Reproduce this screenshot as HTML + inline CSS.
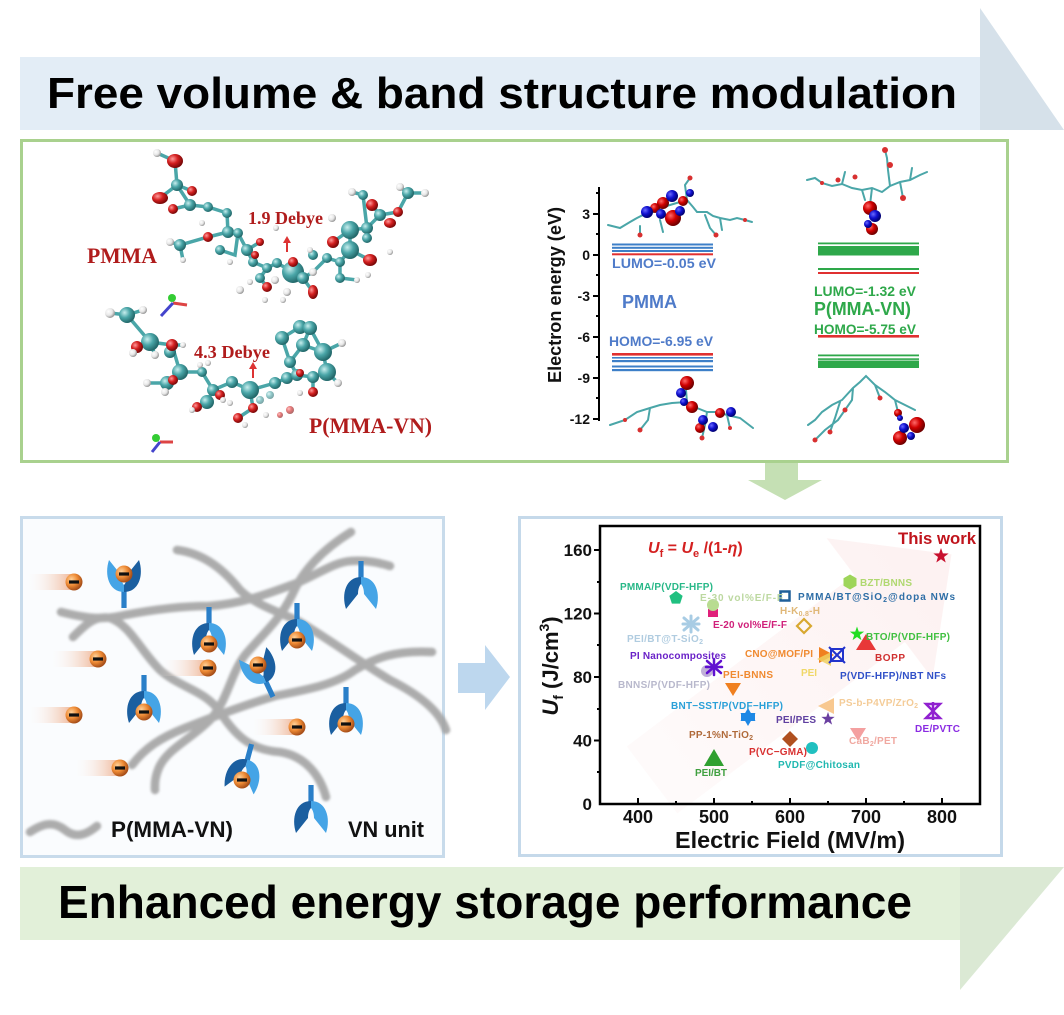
<!DOCTYPE html>
<html><head><meta charset="utf-8"><style>
html,body{margin:0;padding:0;background:#fff;}
svg{display:block;}
text{font-family:"Liberation Sans",Arial,sans-serif;}
.serif{font-family:"Liberation Serif","Times New Roman",serif;}
</style></head><body>
<svg width="1064" height="1015" viewBox="0 0 1064 1015" xmlns="http://www.w3.org/2000/svg">
<defs>
<radialGradient id="gT" cx="35%" cy="35%" r="65%"><stop offset="0" stop-color="#c8eeee"/><stop offset="0.5" stop-color="#4aa6a8"/><stop offset="1" stop-color="#23696b"/></radialGradient>
<radialGradient id="gR" cx="35%" cy="35%" r="65%"><stop offset="0" stop-color="#ff9a9a"/><stop offset="0.5" stop-color="#d42020"/><stop offset="1" stop-color="#7a0808"/></radialGradient>
<radialGradient id="gW" cx="35%" cy="35%" r="65%"><stop offset="0" stop-color="#ffffff"/><stop offset="0.6" stop-color="#e6e6e6"/><stop offset="1" stop-color="#9a9a9a"/></radialGradient>
<radialGradient id="gO" cx="35%" cy="35%" r="65%"><stop offset="0" stop-color="#ffd29a"/><stop offset="0.55" stop-color="#ee8a34"/><stop offset="1" stop-color="#a8501a"/></radialGradient>
<radialGradient id="gBl" cx="35%" cy="35%" r="65%"><stop offset="0" stop-color="#6a6aff"/><stop offset="0.5" stop-color="#1010d0"/><stop offset="1" stop-color="#000070"/></radialGradient>
<radialGradient id="gRl" cx="35%" cy="35%" r="65%"><stop offset="0" stop-color="#ff6a6a"/><stop offset="0.5" stop-color="#d00000"/><stop offset="1" stop-color="#700000"/></radialGradient>
<linearGradient id="tail" x1="0" y1="0" x2="1" y2="0"><stop offset="0" stop-color="#ffffff" stop-opacity="0"/><stop offset="1" stop-color="#eb9a6e" stop-opacity="0.75"/></linearGradient>
<linearGradient id="pinkArrow" x1="0" y1="0" x2="1" y2="0"><stop offset="0" stop-color="#f8dada" stop-opacity="0.12"/><stop offset="1" stop-color="#fbe1e1" stop-opacity="0.45"/></linearGradient>
<filter id="soft" x="-10%" y="-10%" width="120%" height="120%"><feGaussianBlur stdDeviation="1.2"/></filter>
<g id="cup">
  <rect x="-2.6" y="-33" width="5.2" height="19" fill="#2a7fc8"/>
  <path d="M0,-17 C-15,-17 -20,0 -15,15 L-3,0 C-3,-6 -1,-9 0,-10 Z" fill="#1b5fa0"/>
  <path d="M0,-17 C15,-17 20,0 15,15 L3,0 C3,-6 1,-9 0,-10 Z" fill="#45a4e6"/>
</g>
<g id="elec">
  <circle cx="0" cy="0" r="8.5" fill="url(#gO)"/>
  <rect x="-5" y="-1.6" width="10" height="3.2" fill="#111"/>
</g>
</defs>

<!-- TOP BANNER -->
<polygon points="980,8 1064,130 980,130" fill="#d6e1ea"/>
<rect x="20" y="57" width="960" height="73" fill="#e3edf6"/>
<text x="47" y="108" font-size="44" font-weight="bold" fill="#000" textLength="910" lengthAdjust="spacingAndGlyphs">Free volume &amp; band structure modulation</text>

<!-- GREEN BOX -->
<rect x="21.5" y="140.5" width="986" height="321" fill="#fff" stroke="#a9d18e" stroke-width="3"/>

<!-- PMMA molecule -->
<g stroke="#4aa6a8" stroke-width="3.5" fill="none" stroke-linecap="round">
<path d="M157,153 L175,161 L177,185 L190,205 L208,207 L227,213 L228,232 L238,233 L247,250 L253,262 L267,268 L277,263 L293,272 L303,278 L313,272 L327,258 L340,262 L350,250 L350,230 L367,228 L380,215 L398,212 L408,193"/>
<path d="M177,185 L160,198 M177,185 L192,191 M190,205 L173,209 M228,232 L208,237 L180,245 L170,242 M180,245 L183,260 M247,250 L260,242 M267,268 L260,278 L267,287 M293,272 L293,262 M303,278 L313,292 M340,262 L340,278 L357,280 M350,250 L370,260 M350,230 L333,242 M367,228 L363,195 L352,192 M380,215 L372,205 M408,193 L400,187 M408,193 L425,193 M238,233 L235,255 L220,250"/>
</g>
<g fill="url(#gT)">
<circle cx="177" cy="185" r="6"/><circle cx="190" cy="205" r="6"/><circle cx="208" cy="207" r="5"/><circle cx="227" cy="213" r="5"/><circle cx="228" cy="232" r="6"/><circle cx="238" cy="233" r="5"/><circle cx="180" cy="245" r="6"/><circle cx="220" cy="250" r="5"/><circle cx="247" cy="250" r="6"/><circle cx="253" cy="262" r="5"/><circle cx="267" cy="268" r="5"/><circle cx="277" cy="263" r="5"/><circle cx="260" cy="278" r="5"/><circle cx="293" cy="272" r="11"/><circle cx="303" cy="278" r="6"/><circle cx="313" cy="255" r="5"/><circle cx="327" cy="258" r="5"/><circle cx="340" cy="262" r="5"/><circle cx="350" cy="250" r="9"/><circle cx="340" cy="278" r="5"/><circle cx="350" cy="230" r="9"/><circle cx="367" cy="228" r="6"/><circle cx="380" cy="215" r="6"/><circle cx="408" cy="193" r="6"/><circle cx="363" cy="195" r="5"/><circle cx="367" cy="238" r="5"/>
</g>
<g fill="url(#gR)">
<ellipse cx="175" cy="161" rx="8" ry="7"/><ellipse cx="160" cy="198" rx="8" ry="6"/><circle cx="192" cy="191" r="5"/><circle cx="173" cy="209" r="5"/><circle cx="208" cy="237" r="5"/><circle cx="260" cy="242" r="4"/><circle cx="267" cy="287" r="5"/><circle cx="293" cy="262" r="5"/><ellipse cx="313" cy="292" rx="5" ry="7"/><ellipse cx="370" cy="260" rx="7" ry="6"/><circle cx="333" cy="242" r="6"/><circle cx="372" cy="205" r="6"/><ellipse cx="390" cy="223" rx="6" ry="5"/><circle cx="398" cy="212" r="5"/><circle cx="255" cy="255" r="4"/>
</g>
<g fill="url(#gW)">
<circle cx="157" cy="153" r="4"/><circle cx="202" cy="223" r="3"/><circle cx="170" cy="242" r="4"/><circle cx="183" cy="260" r="3"/><circle cx="287" cy="292" r="4"/><circle cx="313" cy="272" r="4"/><circle cx="357" cy="280" r="3"/><circle cx="352" cy="192" r="4"/><circle cx="400" cy="187" r="4"/><circle cx="425" cy="193" r="4"/><circle cx="332" cy="218" r="4"/><circle cx="240" cy="290" r="4"/><circle cx="265" cy="300" r="3"/><circle cx="283" cy="300" r="3"/><circle cx="230" cy="262" r="3"/><circle cx="276" cy="228" r="3"/><circle cx="310" cy="250" r="3"/><circle cx="368" cy="275" r="3"/><circle cx="390" cy="252" r="3"/><circle cx="275" cy="280" r="4"/><circle cx="250" cy="282" r="3"/>
</g>
<path d="M287,252 L287,241" stroke="#d33" stroke-width="2"/><path d="M283,243 L287,236 L291,243 Z" fill="#d33"/>

<!-- P(MMA-VN) molecule -->
<g stroke="#4aa6a8" stroke-width="3.5" fill="none" stroke-linecap="round">
<path d="M110,313 L127,315 L143,310 M127,315 L150,342 L137,347 M150,342 L172,345 L180,372 L167,383 L147,383 M180,372 L202,372 L213,390 L207,402 L197,407 M213,390 L232,382 L250,390 L253,408 L238,418 M250,390 L275,383 L287,378 L297,375 L290,362 L282,338 L300,327 L310,328 L303,345 L290,362 M303,345 L323,352 L327,372 L313,377 L297,375 M310,328 L323,352 M323,352 L342,343 M327,372 L338,383 M313,377 L313,392 M150,342 L155,355 M172,345 L183,345"/>
</g>
<g fill="url(#gT)">
<circle cx="127" cy="315" r="8"/><circle cx="150" cy="342" r="9"/><circle cx="170" cy="352" r="6"/><circle cx="180" cy="372" r="8"/><circle cx="167" cy="383" r="7"/><circle cx="202" cy="372" r="5"/><circle cx="213" cy="390" r="6"/><circle cx="207" cy="402" r="7"/><circle cx="232" cy="382" r="6"/><circle cx="250" cy="390" r="9"/><circle cx="275" cy="383" r="6"/><circle cx="287" cy="378" r="6"/><circle cx="297" cy="375" r="6"/><circle cx="290" cy="362" r="6"/><circle cx="282" cy="338" r="7"/><circle cx="300" cy="327" r="7"/><circle cx="310" cy="328" r="7"/><circle cx="303" cy="345" r="7"/><circle cx="323" cy="352" r="9"/><circle cx="327" cy="372" r="9"/><circle cx="313" cy="377" r="6"/><circle cx="260" cy="400" r="4" opacity="0.6"/><circle cx="270" cy="395" r="4" opacity="0.6"/>
</g>
<g fill="url(#gR)">
<circle cx="137" cy="347" r="6"/><circle cx="172" cy="345" r="6"/><circle cx="173" cy="380" r="5"/><circle cx="220" cy="395" r="5"/><circle cx="197" cy="407" r="5"/><circle cx="253" cy="408" r="5"/><circle cx="238" cy="418" r="5"/><circle cx="313" cy="392" r="5"/><circle cx="300" cy="373" r="4"/><circle cx="290" cy="410" r="4" opacity="0.6"/><circle cx="280" cy="415" r="3" opacity="0.6"/>
</g>
<g fill="url(#gW)">
<circle cx="110" cy="313" r="5"/><circle cx="143" cy="310" r="4"/><circle cx="133" cy="353" r="4"/><circle cx="155" cy="355" r="4"/><circle cx="183" cy="345" r="3"/><circle cx="147" cy="383" r="4"/><circle cx="165" cy="392" r="4"/><circle cx="200" cy="365" r="3"/><circle cx="208" cy="363" r="3"/><circle cx="223" cy="400" r="3"/><circle cx="192" cy="410" r="3"/><circle cx="342" cy="343" r="4"/><circle cx="338" cy="383" r="4"/><circle cx="230" cy="403" r="3"/><circle cx="245" cy="425" r="3"/><circle cx="266" cy="415" r="3"/><circle cx="300" cy="393" r="3"/>
</g>
<path d="M253,378 L253,367" stroke="#d33" stroke-width="2"/><path d="M249,369 L253,362 L257,369 Z" fill="#d33"/>

<!-- axis triads -->
<g>
<line x1="173" y1="303" x2="187" y2="305" stroke="#d44" stroke-width="3"/><line x1="173" y1="303" x2="161" y2="316" stroke="#44c" stroke-width="3"/><circle cx="172" cy="298" r="4" fill="#3c3"/>
<line x1="160" y1="442" x2="173" y2="442" stroke="#d44" stroke-width="3"/><line x1="160" y1="442" x2="152" y2="452" stroke="#44c" stroke-width="3"/><circle cx="156" cy="438" r="4" fill="#3c3"/>
</g>

<text class="serif" x="87" y="263" font-size="22" font-weight="bold" fill="#b01c1c" textLength="70" lengthAdjust="spacingAndGlyphs">PMMA</text>
<text class="serif" x="248" y="224" font-size="18" font-weight="bold" fill="#b01c1c" textLength="75" lengthAdjust="spacingAndGlyphs">1.9 Debye</text>
<text class="serif" x="194" y="358" font-size="18" font-weight="bold" fill="#b01c1c" textLength="76" lengthAdjust="spacingAndGlyphs">4.3 Debye</text>
<text class="serif" x="309" y="433" font-size="22" font-weight="bold" fill="#b01c1c" textLength="123" lengthAdjust="spacingAndGlyphs">P(MMA-VN)</text>

<!-- BAND DIAGRAM -->
<g stroke="#000" stroke-width="2">
<line x1="599" y1="187" x2="599" y2="421"/>
<line x1="593" y1="214" x2="599" y2="214"/><line x1="593" y1="255" x2="599" y2="255"/><line x1="593" y1="296" x2="599" y2="296"/><line x1="593" y1="337" x2="599" y2="337"/><line x1="593" y1="378" x2="599" y2="378"/><line x1="593" y1="419" x2="599" y2="419"/>
<line x1="596" y1="193" x2="599" y2="193"/><line x1="596" y1="234" x2="599" y2="234"/><line x1="596" y1="275" x2="599" y2="275"/><line x1="596" y1="316" x2="599" y2="316"/><line x1="596" y1="357" x2="599" y2="357"/><line x1="596" y1="398" x2="599" y2="398"/>
</g>
<g font-size="14" font-weight="bold" fill="#111" text-anchor="end">
<text x="590" y="219">3</text><text x="590" y="260">0</text><text x="590" y="301">-3</text><text x="590" y="342">-6</text><text x="590" y="383">-9</text><text x="590" y="424">-12</text>
</g>
<text transform="translate(561,295) rotate(-90)" text-anchor="middle" font-size="18" font-weight="bold" fill="#111" textLength="176" lengthAdjust="spacingAndGlyphs">Electron energy (eV)</text>

<!-- PMMA bands -->
<rect x="612" y="243.5" width="101" height="2" fill="#3d7fc8"/>
<rect x="612" y="246.8" width="101" height="2" fill="#3d7fc8"/>
<rect x="612" y="250" width="101" height="2" fill="#3d7fc8"/>
<rect x="612" y="253.3" width="101" height="2" fill="#e03030"/>
<rect x="612" y="353" width="101" height="2.6" fill="#e03030"/>
<rect x="612" y="357" width="101" height="1.6" fill="#3d7fc8"/>
<rect x="612" y="360" width="101" height="2.2" fill="#3d7fc8"/>
<rect x="612" y="365.5" width="101" height="2" fill="#3d7fc8"/>
<rect x="612" y="369" width="101" height="2.2" fill="#3d7fc8"/>
<text x="612" y="268" font-size="14" font-weight="bold" fill="#4f7bc9" textLength="104" lengthAdjust="spacingAndGlyphs">LUMO=-0.05 eV</text>
<text x="622" y="308" font-size="18" font-weight="bold" fill="#4f7bc9" textLength="55" lengthAdjust="spacingAndGlyphs">PMMA</text>
<text x="609" y="346" font-size="14" font-weight="bold" fill="#4f7bc9" textLength="104" lengthAdjust="spacingAndGlyphs">HOMO=-6.95 eV</text>

<!-- P(MMA-VN) bands -->
<rect x="818" y="242.5" width="101" height="1.8" fill="#2ea84a"/>
<rect x="818" y="246" width="101" height="9.5" fill="#2ea84a"/>
<rect x="818" y="268" width="101" height="2" fill="#2ea84a"/>
<rect x="818" y="272" width="101" height="2" fill="#e03030"/>
<rect x="818" y="335" width="101" height="2.6" fill="#e03030"/>
<rect x="818" y="354.5" width="101" height="1.8" fill="#2ea84a"/>
<rect x="818" y="358.3" width="101" height="1.6" fill="#2ea84a"/>
<rect x="818" y="360.5" width="101" height="7.5" fill="#2ea84a"/>
<text x="814" y="296" font-size="14" font-weight="bold" fill="#2ea84a" textLength="102" lengthAdjust="spacingAndGlyphs">LUMO=-1.32 eV</text>
<text x="814" y="315" font-size="18" font-weight="bold" fill="#2ea84a" textLength="97" lengthAdjust="spacingAndGlyphs">P(MMA-VN)</text>
<text x="814" y="334" font-size="14" font-weight="bold" fill="#2ea84a" textLength="102" lengthAdjust="spacingAndGlyphs">HOMO=-5.75 eV</text>

<!-- orbital molecules -->
<g stroke="#4aa6a8" stroke-width="2" fill="none" stroke-linecap="round">
<path d="M608,225 L620,228 L630,222 L637,218 L645,214 L653,212 L662,208 L670,205 L680,202 L687,200 L693,207 L697,212 L707,212 L713,216 L720,218 L730,220 L737,218 L745,220 L752,222 M687,200 L685,185 L690,178 M640,226 L640,235 M660,220 L663,232 M705,215 L710,228 L716,235 M720,218 L722,230"/>
<path d="M610,425 L625,420 L637,412 L650,408 L660,405 L672,403 L687,402 L697,408 L707,412 L718,412 L727,415 L740,418 L753,428 M687,402 L686,390 L687,378 M650,408 L648,420 L640,430 M707,412 L705,425 L702,438 M727,415 L730,428"/>
<path d="M807,180 L815,178 L822,183 L832,186 L842,184 L852,188 L862,190 L872,188 L882,192 L890,186 L900,182 L910,180 L920,175 L927,172 M890,186 L888,170 L887,158 L885,150 M900,182 L903,198 M842,184 L845,172 M862,190 L865,200 M910,180 L912,168 M872,188 L870,205"/>
<path d="M808,425 L815,420 L822,412 L832,405 L842,400 L853,388 L860,382 L866,376 L875,385 L885,392 L895,400 L905,405 L915,410 M853,388 L852,400 L845,410 L838,420 L825,430 L815,440 M875,385 L880,398 M895,400 L898,412 M840,402 L835,418 L830,432"/>
</g>
<g fill="#d83030">
<circle cx="640" cy="235" r="2.5"/><circle cx="716" cy="235" r="2.5"/><circle cx="690" cy="178" r="2.5"/><circle cx="745" cy="220" r="2"/>
<circle cx="640" cy="430" r="2.5"/><circle cx="702" cy="438" r="2.5"/><circle cx="730" cy="428" r="2"/><circle cx="625" cy="420" r="2"/>
<circle cx="838" cy="180" r="2.5"/><circle cx="855" cy="177" r="2.5"/><circle cx="890" cy="165" r="3"/><circle cx="885" cy="150" r="3"/><circle cx="903" cy="198" r="3"/><circle cx="822" cy="183" r="2"/>
<circle cx="830" cy="432" r="2.5"/><circle cx="815" cy="440" r="2.5"/><circle cx="880" cy="398" r="2.5"/><circle cx="845" cy="410" r="2.5"/>
</g>
<g>
<circle cx="663" cy="203" r="6" fill="url(#gRl)"/><circle cx="673" cy="218" r="8" fill="url(#gRl)"/><circle cx="655" cy="208" r="5" fill="url(#gRl)"/><circle cx="683" cy="201" r="5" fill="url(#gRl)"/>
<circle cx="647" cy="212" r="6" fill="url(#gBl)"/><circle cx="661" cy="214" r="5" fill="url(#gBl)"/><circle cx="672" cy="196" r="6" fill="url(#gBl)"/><circle cx="680" cy="211" r="5" fill="url(#gBl)"/><circle cx="690" cy="193" r="4" fill="url(#gBl)"/>
<circle cx="687" cy="383" r="7" fill="url(#gRl)"/><circle cx="692" cy="407" r="6" fill="url(#gRl)"/><circle cx="720" cy="413" r="5" fill="url(#gRl)"/><circle cx="700" cy="428" r="5" fill="url(#gRl)"/>
<circle cx="681" cy="393" r="5" fill="url(#gBl)"/><circle cx="684" cy="402" r="4" fill="url(#gBl)"/><circle cx="703" cy="420" r="5" fill="url(#gBl)"/><circle cx="731" cy="412" r="5" fill="url(#gBl)"/><circle cx="713" cy="427" r="5" fill="url(#gBl)"/>
<circle cx="870" cy="208" r="7" fill="url(#gRl)"/><circle cx="872" cy="229" r="6" fill="url(#gRl)"/>
<circle cx="875" cy="216" r="6" fill="url(#gBl)"/><circle cx="868" cy="224" r="4" fill="url(#gBl)"/>
<circle cx="917" cy="425" r="8" fill="url(#gRl)"/><circle cx="900" cy="438" r="7" fill="url(#gRl)"/><circle cx="898" cy="413" r="4" fill="url(#gRl)"/>
<circle cx="904" cy="428" r="5" fill="url(#gBl)"/><circle cx="911" cy="436" r="4" fill="url(#gBl)"/><circle cx="900" cy="418" r="3" fill="url(#gBl)"/>
</g>

<!-- down arrow -->
<polygon points="765,463 798,463 798,480 822,480 785,500 748,480 765,480" fill="#c5e0b4"/>

<!-- BOTTOM LEFT PANEL -->
<rect x="21.5" y="517.5" width="422" height="339" fill="#fafcfe" stroke="#c8dbeb" stroke-width="3"/>
<g fill="none" stroke="#a4a4a4" stroke-width="8.5" stroke-linecap="round" filter="url(#soft)" opacity="0.9">
<path d="M61,612 C85,618 100,620 120,616 C150,610 180,606 209,606 C240,604 265,595 297,583 C320,573 335,562 351,561 C368,560 380,563 390,566"/>
<path d="M177,550 C200,553 220,565 240,590 C255,605 280,612 300,622 C330,640 360,662 390,680 C420,695 440,712 446,730"/>
<path d="M73,637 C85,625 95,615 110,618 C130,625 140,650 160,670 C180,688 205,690 220,712 C235,735 250,750 280,752 C305,756 320,775 326,797"/>
<path d="M351,532 C330,545 305,565 292,595 C280,620 262,635 245,655 C230,675 228,700 210,720 C190,740 165,750 158,770 C154,780 155,788 155,790"/>
<path d="M132,765 C145,748 160,738 185,728 C215,716 245,705 275,696 C305,690 335,685 355,670 C375,658 395,650 432,652"/>
<path d="M30,832 C45,822 55,822 65,830 C75,838 85,836 97,826"/>
</g>
<!-- tails -->
<rect x="25" y="574" width="49" height="16" fill="url(#tail)"/>
<rect x="49" y="651" width="49" height="16" fill="url(#tail)"/>
<rect x="159" y="660" width="49" height="16" fill="url(#tail)"/>
<rect x="27" y="707" width="47" height="16" fill="url(#tail)"/>
<rect x="250" y="719" width="47" height="16" fill="url(#tail)"/>
<rect x="73" y="760" width="47" height="16" fill="url(#tail)"/>
<use href="#elec" x="74" y="582"/><use href="#elec" x="98" y="659"/><use href="#elec" x="208" y="668"/><use href="#elec" x="74" y="715"/><use href="#elec" x="297" y="727"/><use href="#elec" x="120" y="768"/>
<!-- cups -->
<g transform="translate(124,575) rotate(180)"><use href="#cup"/></g><use href="#elec" x="124" y="574"/>
<g transform="translate(209,640)"><use href="#cup"/></g><use href="#elec" x="209" y="644"/>
<g transform="translate(297,636)"><use href="#cup"/></g><use href="#elec" x="297" y="640"/>
<g transform="translate(259,667) rotate(155)"><use href="#cup"/></g><use href="#elec" x="258" y="665"/>
<g transform="translate(144,708)"><use href="#cup"/></g><use href="#elec" x="144" y="712"/>
<g transform="translate(346,720)"><use href="#cup"/></g><use href="#elec" x="346" y="724"/>
<g transform="translate(243,776) rotate(15)"><use href="#cup"/></g><use href="#elec" x="242" y="780"/>
<g transform="translate(361,594)"><use href="#cup"/></g>
<g transform="translate(311,818)"><use href="#cup"/></g>
<text x="111" y="837" font-size="22" font-weight="bold" fill="#111" textLength="122" lengthAdjust="spacingAndGlyphs">P(MMA-VN)</text>
<text x="348" y="837" font-size="22" font-weight="bold" fill="#111" textLength="76" lengthAdjust="spacingAndGlyphs">VN unit</text>

<!-- right arrow -->
<polygon points="458,663 485,663 485,645 510,677 485,710 485,693 458,693" fill="#bdd7ee"/>

<!-- CHART PANEL -->
<rect x="519.5" y="517.5" width="482" height="338" fill="#fff" stroke="#c5d9ea" stroke-width="3"/>
<g transform="translate(652,780) rotate(-37)">
<polygon points="0,-42 285,-42 285,-88 375,0 285,88 285,42 0,42" fill="url(#pinkArrow)"/>
</g>
<rect x="600" y="526" width="380" height="278" fill="none" stroke="#000" stroke-width="2.5"/>
<g stroke="#000" stroke-width="2">
<line x1="594" y1="550" x2="600" y2="550"/><line x1="594" y1="613.5" x2="600" y2="613.5"/><line x1="594" y1="677" x2="600" y2="677"/><line x1="594" y1="740.5" x2="600" y2="740.5"/>
<line x1="597" y1="582" x2="600" y2="582"/><line x1="597" y1="645" x2="600" y2="645"/><line x1="597" y1="709" x2="600" y2="709"/><line x1="597" y1="772" x2="600" y2="772"/>
<line x1="638" y1="804" x2="638" y2="798"/><line x1="714" y1="804" x2="714" y2="798"/><line x1="790" y1="804" x2="790" y2="798"/><line x1="866" y1="804" x2="866" y2="798"/><line x1="942" y1="804" x2="942" y2="798"/>
<line x1="676" y1="804" x2="676" y2="801"/><line x1="752" y1="804" x2="752" y2="801"/><line x1="828" y1="804" x2="828" y2="801"/><line x1="904" y1="804" x2="904" y2="801"/>
</g>
<g font-size="17" font-weight="bold" fill="#111" text-anchor="end">
<text x="592" y="556">160</text><text x="592" y="619.5">120</text><text x="592" y="683">80</text><text x="592" y="746.5">40</text><text x="592" y="810">0</text>
</g>
<g font-size="18" font-weight="bold" fill="#111" text-anchor="middle">
<text x="638" y="823">400</text><text x="714" y="823">500</text><text x="790" y="823">600</text><text x="866" y="823">700</text><text x="942" y="823">800</text>
</g>
<text x="675" y="848" font-size="23" font-weight="bold" fill="#111" textLength="230" lengthAdjust="spacingAndGlyphs">Electric Field (MV/m)</text>
<text transform="translate(558,666) rotate(-90)" text-anchor="middle" font-size="22" font-weight="bold" fill="#111"><tspan font-style="italic">U</tspan><tspan font-size="14" dy="5">f</tspan><tspan dy="-5"> (J/cm</tspan><tspan font-size="14" dy="-9">3</tspan><tspan dy="9">)</tspan></text>
<text x="648" y="553" font-size="16" font-weight="bold" fill="#d42020"><tspan font-style="italic">U</tspan><tspan font-size="11" dy="4">f</tspan><tspan dy="-4"> = </tspan><tspan font-style="italic">U</tspan><tspan font-size="11" dy="4">e</tspan><tspan dy="-4"> /(1-</tspan><tspan font-style="italic">η</tspan><tspan>)</tspan></text>
<text x="898" y="544" font-size="17" font-weight="bold" fill="#c0141c" textLength="78" lengthAdjust="spacingAndGlyphs">This work</text>

<!-- markers -->
<g>
<path transform="translate(941,556) scale(8)" d="M0,-1 L0.235,-0.324 L0.951,-0.309 L0.38,0.124 L0.588,0.809 L0,0.4 L-0.588,0.809 L-0.38,0.124 L-0.951,-0.309 L-0.235,-0.324 Z" fill="#c8102e"/>
<path transform="translate(676,598) scale(7)" d="M0,-1 L0.951,-0.309 L0.588,0.809 L-0.588,0.809 L-0.951,-0.309 Z" fill="#20c080"/>
<rect x="708" y="609" width="10" height="8" fill="#e0207a"/>
<circle cx="713" cy="605" r="6" fill="#b8dc90"/>
<g stroke="#a8cce4" stroke-width="3" stroke-linecap="round"><line x1="691" y1="616" x2="691" y2="632"/><line x1="684" y1="618" x2="698" y2="630"/><line x1="698" y1="618" x2="684" y2="630"/><line x1="683" y1="624" x2="699" y2="624"/></g>
<path transform="translate(850,582) scale(7.5)" d="M0,-1 L0.866,-0.5 L0.866,0.5 L0,1 L-0.866,0.5 L-0.866,-0.5 Z" fill="#9ed55a"/>
<rect x="780.5" y="591.5" width="9" height="9" fill="none" stroke="#1f5f99" stroke-width="2.5"/>
<path d="M804,619 L811,626 L804,633 L797,626 Z" fill="none" stroke="#d8a830" stroke-width="2.2"/>
<path transform="translate(857,634) scale(7.5)" d="M0,-1 L0.235,-0.324 L0.951,-0.309 L0.38,0.124 L0.588,0.809 L0,0.4 L-0.588,0.809 L-0.38,0.124 L-0.951,-0.309 L-0.235,-0.324 Z" fill="#22dd22"/>
<path d="M866,634 L876,650 L856,650 Z" fill="#e83838"/>
<path d="M819,647 L834,655 L819,663 Z" fill="#f08020"/>
<path d="M831,652 L817,659 L831,666 Z" fill="#f0d060" opacity="0.85"/>
<g stroke="#2233cc" stroke-width="2" fill="none"><rect x="831" y="649" width="12" height="12"/><line x1="829" y1="647" x2="845" y2="663"/><line x1="845" y1="647" x2="829" y2="663"/></g>
<circle cx="707" cy="671" r="6" fill="#c0b0d8"/>
<g stroke="#6010d0" stroke-width="2.5" stroke-linecap="round"><line x1="714" y1="659" x2="714" y2="675"/><line x1="707" y1="661" x2="721" y2="673"/><line x1="721" y1="661" x2="707" y2="673"/><line x1="706" y1="667" x2="722" y2="667"/></g>
<path d="M725,683 L741,683 L733,696 Z" fill="#f08020"/>
<path d="M748,708 L755.5,721 L740.5,721 Z" fill="#1e88e5"/>
<path d="M748,726 L740.5,713 L755.5,713 Z" fill="#1e88e5" transform="translate(0,0)"/>
<path d="M741,713 L755,713 L755,721 L741,721 Z" fill="#1e88e5"/>
<path d="M834,698 L818,706 L834,714 Z" fill="#f8c890"/>
<path transform="translate(828,719) scale(7)" d="M0,-1 L0.235,-0.324 L0.951,-0.309 L0.38,0.124 L0.588,0.809 L0,0.4 L-0.588,0.809 L-0.38,0.124 L-0.951,-0.309 L-0.235,-0.324 Z" fill="#6a3fa0"/>
<g stroke="#9020d0" stroke-width="2.5" fill="none"><path d="M926,704 L940,704 L926,718 L940,718 Z"/><line x1="933" y1="702" x2="933" y2="720"/></g>
<path d="M850,728 L866,728 L858,741 Z" fill="#f4a0a0"/>
<path d="M790,731 L798,739 L790,747 L782,739 Z" fill="#b05020"/>
<circle cx="812" cy="748" r="6" fill="#20c0c0"/>
<path d="M714,749 L724,766 L704,766 Z" fill="#30a030"/>
</g>

<!-- labels -->
<g font-size="10" font-weight="bold" lengthAdjust="spacingAndGlyphs">
<text x="620" y="590" fill="#28b888" textLength="93">PMMA/P(VDF-HFP)</text>
<text x="700" y="601" fill="#bcd8a0" textLength="83">E-30 vol%E/F-F</text>
<text x="713" y="628" fill="#d0207a" textLength="74">E-20 vol%E/F-F</text>
<text x="627" y="642" fill="#b0cce0" textLength="76">PEI/BT@T-SiO<tspan font-size="7" dy="2">2</tspan></text>
<text x="630" y="659" fill="#6a22c8" textLength="96">PI Nanocomposites</text>
<text x="618" y="688" fill="#b8b8cc" textLength="92">BNNS/P(VDF-HFP)</text>
<text x="723" y="678" fill="#f08a30" textLength="50">PEI-BNNS</text>
<text x="671" y="709" fill="#2aa0d8" textLength="112">BNT−SST/P(VDF−HFP)</text>
<text x="689" y="738" fill="#b06a3a" textLength="64">PP-1%N-TiO<tspan font-size="7" dy="2">2</tspan></text>
<text x="695" y="776" fill="#40a040" textLength="32">PEI/BT</text>
<text x="749" y="755" fill="#d83030" textLength="58">P(VC−GMA)</text>
<text x="778" y="768" fill="#20b8b0" textLength="82">PVDF@Chitosan</text>
<text x="776" y="723" fill="#6040a0" textLength="40">PEI/PES</text>
<text x="839" y="706" fill="#f4cc98" textLength="79">PS-b-P4VP/ZrO<tspan font-size="7" dy="2">2</tspan></text>
<text x="915" y="732" fill="#8a2be2" textLength="45">DE/PVTC</text>
<text x="849" y="744" fill="#f0a8a0" textLength="48">CaB<tspan font-size="7" dy="2">2</tspan><tspan dy="-2">/PET</tspan></text>
<text x="860" y="586" fill="#b0d870" textLength="52">BZT/BNNS</text>
<text x="798" y="600" fill="#2e6ea6" textLength="157">PMMA/BT@SiO<tspan font-size="7" dy="2">2</tspan><tspan dy="-2">@dopa NWs</tspan></text>
<text x="780" y="614" fill="#e0b878" textLength="40">H-K<tspan font-size="7" dy="2">0.8</tspan><tspan dy="-2">-H</tspan></text>
<text x="866" y="640" fill="#40c040" textLength="84">BTO/P(VDF-HFP)</text>
<text x="875" y="661" fill="#d03030" textLength="30">BOPP</text>
<text x="745" y="657" fill="#f08a30" textLength="68">CNO@MOF/PI</text>
<text x="801" y="676" fill="#f0d868" textLength="16">PEI</text>
<text x="840" y="679" fill="#3050c8" textLength="106">P(VDF-HFP)/NBT NFs</text>
</g>

<!-- BOTTOM BANNER -->
<polygon points="960,867 1064,867 960,990" fill="#dbe9d4"/>
<rect x="20" y="867" width="940" height="73" fill="#e2f0d9"/>
<text x="58" y="918" font-size="46" font-weight="bold" fill="#000" textLength="854" lengthAdjust="spacingAndGlyphs">Enhanced energy storage performance</text>
</svg>
</body></html>
